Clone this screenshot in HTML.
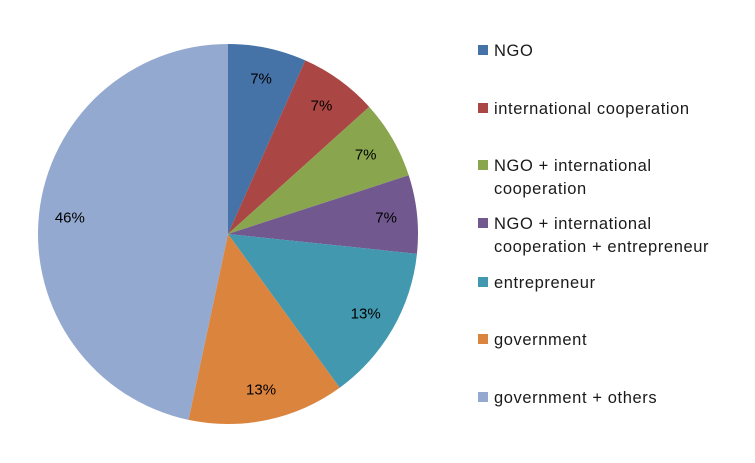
<!DOCTYPE html>
<html><head><meta charset="utf-8"><style>
body{margin:0;background:#fff;font-family:"Liberation Sans",sans-serif;}
svg text{font-family:"Liberation Sans",sans-serif;}
</style></head><body>
<svg id="chart" width="755" height="458" viewBox="0 0 755 458" xmlns="http://www.w3.org/2000/svg">
<rect width="755" height="458" fill="#fff"/>
<g id="slices"></g>
<g id="labels"></g>
<g id="legend"></g>
</svg>
<script>
const categories = ["NGO","international cooperation","NGO + international cooperation","NGO + international cooperation + entrepreneur","entrepreneur","government","government + others"];
const values = [1,1,1,1,2,2,7];
const valueLabels = ["7%","7%","7%","7%","13%","13%","46%"];
const legendLines = [["NGO"],["international cooperation"],["NGO + international","cooperation"],["NGO + international","cooperation + entrepreneur"],["entrepreneur"],["government"],["government + others"]];
const colors = ["#4572A7","#AA4643","#89A54E","#71588F","#4198AF","#DB843D","#93A9CF"];
const legendY = [50,108,165,223,282,339,397];

const NS="http://www.w3.org/2000/svg";
const cx=228, cy=234, r=190, rl=159;
const total=values.reduce((a,b)=>a+b,0);
const gS=document.getElementById('slices'), gL=document.getElementById('labels'), gG=document.getElementById('legend');
function pt(a,rad){return [cx+rad*Math.sin(a), cy-rad*Math.cos(a)];}
let acc=0;
values.forEach((v,i)=>{
  const a0=acc/total*2*Math.PI; acc+=v; const a1=acc/total*2*Math.PI;
  const p0=pt(a0,r), p1=pt(a1,r);
  const large=(a1-a0)>Math.PI?1:0;
  const path=document.createElementNS(NS,'path');
  path.setAttribute('d',`M${cx},${cy} L${p0[0]},${p0[1]} A${r},${r} 0 ${large} 1 ${p1[0]},${p1[1]} Z`);
  path.setAttribute('fill',colors[i]);
  
  
  gS.appendChild(path);
  const m=pt((a0+a1)/2,rl);
  const t=document.createElementNS(NS,'text');
  t.setAttribute('x',m[0]); t.setAttribute('y',m[1]+5);
  t.setAttribute('text-anchor','middle'); t.setAttribute('font-size','15'); t.setAttribute('fill','#000');
  t.textContent=valueLabels[i];
  
  
  gL.appendChild(t);
});
categories.forEach((c,i)=>{
  const y=legendY[i];
  const sq=document.createElementNS(NS,'rect');
  sq.setAttribute('x',478); sq.setAttribute('y',y-5); sq.setAttribute('width',10); sq.setAttribute('height',10);
  sq.setAttribute('fill',colors[i]);
  
  
  gG.appendChild(sq);
  legendLines[i].forEach((ln,j)=>{
    const t=document.createElementNS(NS,'text');
    t.setAttribute('x',494); t.setAttribute('y',y+6+j*23);
    t.setAttribute('font-size','16.5'); t.setAttribute('letter-spacing','0.6'); t.setAttribute('fill','#1a1a1a');
    t.textContent=ln;
    
    
    gG.appendChild(t);
  });
});
</script>
</body></html>
